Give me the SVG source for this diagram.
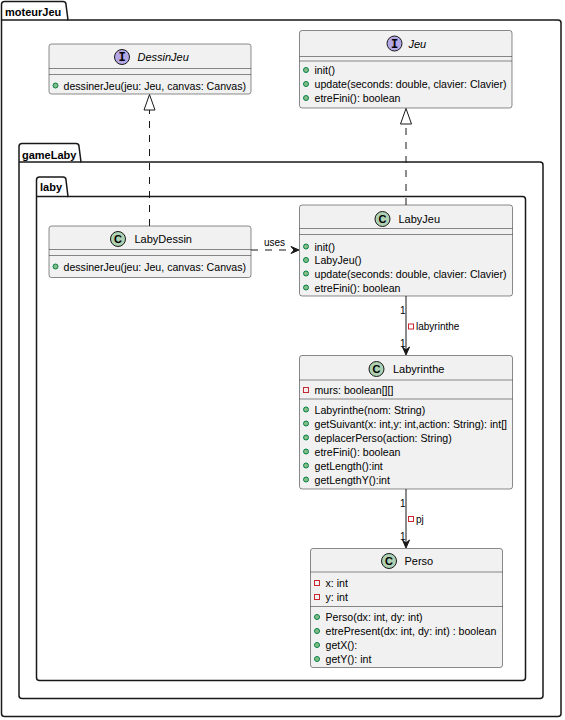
<svg xmlns="http://www.w3.org/2000/svg" width="565" height="720" viewBox="0 0 565 720">
  <style>
    .pkg { fill: none; stroke: #181818; stroke-width: 1.5; }
    .pkgname { font-family: "Liberation Sans", Arial, sans-serif; font-size: 11px; font-weight: bold; fill: #000; }
    .box { fill: #F1F1F1; stroke: #181818; stroke-width: 0.5; }
    .sep { stroke: #181818; stroke-width: 0.5; }
    .title { font-family: "Liberation Sans", Arial, sans-serif; font-size: 11px; fill: #000; }
    .ititle { font-family: "Liberation Sans", Arial, sans-serif; font-size: 11px; font-style: italic; fill: #000; }
    .mem { font-family: "Liberation Sans", Arial, sans-serif; font-size: 10.6px; fill: #000; }
    .lbl { font-family: "Liberation Sans", Arial, sans-serif; font-size: 10px; fill: #000; }
    .ci { fill: #B4A7E5; stroke: #181818; stroke-width: 1; }
    .cc { fill: #ADD1B2; stroke: #181818; stroke-width: 1; }
    .letter { font-family: "Liberation Sans", Arial, sans-serif; font-size: 11px; font-weight: bold; fill: #000; text-anchor: middle; }
    .iletter { font-family: "Liberation Mono", "Courier New", monospace; font-size: 12px; font-weight: bold; fill: #000; text-anchor: middle; }
    .pub { fill: #84BE84; stroke: #038048; stroke-width: 1; }
    .priv { fill: none; stroke: #C82930; stroke-width: 1; }
    .dash { fill: none; stroke: #181818; stroke-width: 1; stroke-dasharray: 7,7; }
    .solid { fill: none; stroke: #181818; stroke-width: 1; }
    .hollow { fill: #FFFFFF; stroke: #181818; stroke-width: 1; }
    .head { fill: #181818; stroke: #181818; stroke-width: 1; }
  </style>

  <!-- packages -->
  <g id="pkg-moteurJeu">
    <path class="pkg" d="M1.5,4.5 Q1.5,1.5 4.5,1.5 L63,1.5 Q66,1.5 66,4.5 L68,20 L558,20 Q561,20 561,23 L561,713.5 Q561,716.5 558,716.5 L4.5,716.5 Q1.5,716.5 1.5,713.5 Z"/>
    <line class="pkg" x1="1.5" y1="20" x2="68" y2="20"/>
    <text class="pkgname" x="5" y="16">moteurJeu</text>
  </g>
  <g id="pkg-gameLaby">
    <path class="pkg" d="M19,146.5 Q19,143.5 22,143.5 L76,143.5 Q79,143.5 79,146.5 L81,162 L540,162 Q543,162 543,165 L543,695.5 Q543,698.5 540,698.5 L22,698.5 Q19,698.5 19,695.5 Z"/>
    <line class="pkg" x1="19" y1="162" x2="81" y2="162"/>
    <text class="pkgname" x="22" y="158.5">gameLaby</text>
  </g>
  <g id="pkg-laby">
    <path class="pkg" d="M36.5,180 Q36.5,177 39.5,177 L63,177 Q66,177 66,180 L68,196.5 L522.5,196.5 Q525.5,196.5 525.5,199.5 L525.5,677.5 Q525.5,680.5 522.5,680.5 L39.5,680.5 Q36.5,680.5 36.5,677.5 Z"/>
    <line class="pkg" x1="36.5" y1="196.5" x2="68" y2="196.5"/>
    <text class="pkgname" x="40" y="191">laby</text>
  </g>

  <!-- DessinJeu interface -->
  <g id="DessinJeu">
    <rect class="box" x="49" y="44" width="202" height="50" rx="2.5"/>
    <circle class="ci" cx="122" cy="57" r="7.5"/>
    <text class="iletter" x="122" y="61">I</text>
    <text class="ititle" x="137.5" y="61">DessinJeu</text>
    <line class="sep" x1="49" y1="68.5" x2="251" y2="68.5"/>
    <line class="sep" x1="49" y1="74.5" x2="251" y2="74.5"/>
    <circle class="pub" cx="55.5" cy="85.5" r="2.5"/>
    <text class="mem" x="63.5" y="89.5">dessinerJeu(jeu: Jeu, canvas: Canvas)</text>
  </g>

  <!-- Jeu interface -->
  <g id="Jeu">
    <rect class="box" x="299.5" y="30.5" width="212.5" height="77.5" rx="2.5"/>
    <circle class="ci" cx="394.5" cy="43.5" r="7.5"/>
    <text class="iletter" x="394.5" y="47.5">I</text>
    <text class="ititle" x="408.5" y="47.5">Jeu</text>
    <line class="sep" x1="299.5" y1="56.5" x2="512" y2="56.5"/>
    <line class="sep" x1="299.5" y1="61" x2="512" y2="61"/>
    <circle class="pub" cx="306" cy="70" r="2.5"/>
    <text class="mem" x="314.5" y="74">init()</text>
    <circle class="pub" cx="306" cy="84" r="2.5"/>
    <text class="mem" x="314.5" y="88">update(seconds: double, clavier: Clavier)</text>
    <circle class="pub" cx="306" cy="98" r="2.5"/>
    <text class="mem" x="314.5" y="102">etreFini(): boolean</text>
  </g>

  <!-- LabyDessin class -->
  <g id="LabyDessin">
    <rect class="box" x="49" y="226" width="202" height="51.5" rx="2.5"/>
    <circle class="cc" cx="118" cy="239" r="7.5"/>
    <text class="letter" x="118" y="243">C</text>
    <text class="title" x="134.5" y="243">LabyDessin</text>
    <line class="sep" x1="49" y1="249.5" x2="251" y2="249.5"/>
    <line class="sep" x1="49" y1="255.5" x2="251" y2="255.5"/>
    <circle class="pub" cx="55.5" cy="266.5" r="2.5"/>
    <text class="mem" x="63.5" y="270.5">dessinerJeu(jeu: Jeu, canvas: Canvas)</text>
  </g>

  <!-- LabyJeu class -->
  <g id="LabyJeu">
    <rect class="box" x="299.5" y="205" width="213" height="91" rx="2.5"/>
    <circle class="cc" cx="382.5" cy="219" r="7.5"/>
    <text class="letter" x="382.5" y="223">C</text>
    <text class="title" x="398.5" y="223">LabyJeu</text>
    <line class="sep" x1="299.5" y1="228.5" x2="512.5" y2="228.5"/>
    <line class="sep" x1="299.5" y1="234.5" x2="512.5" y2="234.5"/>
    <circle class="pub" cx="306" cy="246.5" r="2.5"/>
    <text class="mem" x="314.5" y="250.5">init()</text>
    <circle class="pub" cx="306" cy="260" r="2.5"/>
    <text class="mem" x="314.5" y="264">LabyJeu()</text>
    <circle class="pub" cx="306" cy="273.5" r="2.5"/>
    <text class="mem" x="314.5" y="277.5">update(seconds: double, clavier: Clavier)</text>
    <circle class="pub" cx="306" cy="287.5" r="2.5"/>
    <text class="mem" x="314.5" y="291.5">etreFini(): boolean</text>
  </g>

  <!-- Labyrinthe class -->
  <g id="Labyrinthe">
    <rect class="box" x="299.5" y="355.5" width="213" height="133.5" rx="2.5"/>
    <circle class="cc" cx="376.5" cy="369" r="7.5"/>
    <text class="letter" x="376.5" y="373">C</text>
    <text class="title" x="393" y="373">Labyrinthe</text>
    <line class="sep" x1="299.5" y1="380" x2="512.5" y2="380"/>
    <rect class="priv" x="303.5" y="387.5" width="5" height="5"/>
    <text class="mem" x="314.5" y="393.5">murs: boolean[][]</text>
    <line class="sep" x1="299.5" y1="399" x2="512.5" y2="399"/>
    <circle class="pub" cx="306" cy="409.5" r="2.5"/>
    <text class="mem" x="314.5" y="413.5">Labyrinthe(nom: String)</text>
    <circle class="pub" cx="306" cy="423.5" r="2.5"/>
    <text class="mem" x="314.5" y="427.5">getSuivant(x: int,y: int,action: String): int[]</text>
    <circle class="pub" cx="306" cy="437.5" r="2.5"/>
    <text class="mem" x="314.5" y="441.5">deplacerPerso(action: String)</text>
    <circle class="pub" cx="306" cy="451.5" r="2.5"/>
    <text class="mem" x="314.5" y="455.5">etreFini(): boolean</text>
    <circle class="pub" cx="306" cy="465.5" r="2.5"/>
    <text class="mem" x="314.5" y="469.5">getLength():int</text>
    <circle class="pub" cx="306" cy="479.5" r="2.5"/>
    <text class="mem" x="314.5" y="483.5">getLengthY():int</text>
  </g>

  <!-- Perso class -->
  <g id="Perso">
    <rect class="box" x="310.5" y="548.5" width="192" height="119" rx="2.5"/>
    <circle class="cc" cx="389" cy="561" r="7.5"/>
    <text class="letter" x="389" y="565">C</text>
    <text class="title" x="404.5" y="565">Perso</text>
    <line class="sep" x1="310.5" y1="572" x2="502.5" y2="572"/>
    <rect class="priv" x="314.5" y="580.5" width="5" height="5"/>
    <text class="mem" x="325.5" y="587">x: int</text>
    <rect class="priv" x="314.5" y="594.5" width="5" height="5"/>
    <text class="mem" x="325.5" y="601">y: int</text>
    <line class="sep" x1="310.5" y1="606.5" x2="502.5" y2="606.5"/>
    <circle class="pub" cx="317" cy="617" r="2.5"/>
    <text class="mem" x="325.5" y="621">Perso(dx: int, dy: int)</text>
    <circle class="pub" cx="317" cy="631" r="2.5"/>
    <text class="mem" x="325.5" y="635">etrePresent(dx: int, dy: int) : boolean</text>
    <circle class="pub" cx="317" cy="645" r="2.5"/>
    <text class="mem" x="325.5" y="649">getX():</text>
    <circle class="pub" cx="317" cy="659" r="2.5"/>
    <text class="mem" x="325.5" y="663">getY(): int</text>
  </g>

  <!-- connectors -->
  <g id="connectors">
    <!-- LabyDessin realizes DessinJeu -->
    <line class="dash" x1="149.5" y1="226" x2="149.5" y2="110"/>
    <polygon class="hollow" points="149.5,94.5 144,110 155,110"/>
    <!-- LabyJeu realizes Jeu -->
    <line class="dash" x1="406" y1="205" x2="406" y2="124"/>
    <polygon class="hollow" points="406,108.5 400.5,124 411.5,124"/>
    <!-- LabyDessin uses LabyJeu -->
    <line class="dash" x1="251" y1="250" x2="297" y2="250"/>
    <polygon class="head" points="299,250 291,246.5 294,250 291,253.5"/>
    <text class="lbl" x="264" y="245.5">uses</text>
    <!-- LabyJeu -> Labyrinthe -->
    <line class="solid" x1="406" y1="296" x2="406" y2="353"/>
    <polygon class="head" points="406,355 402.5,347 406,350 409.5,347"/>
    <text class="lbl" x="400" y="314">1</text>
    <rect class="priv" x="408.5" y="324" width="5" height="5"/>
    <text class="lbl" x="416" y="330">labyrinthe</text>
    <text class="lbl" x="400" y="347">1</text>
    <!-- Labyrinthe -> Perso -->
    <line class="solid" x1="406" y1="489" x2="406" y2="546"/>
    <polygon class="head" points="406,548 402.5,540 406,543 409.5,540"/>
    <text class="lbl" x="400" y="506.5">1</text>
    <rect class="priv" x="408.5" y="516.5" width="5" height="5"/>
    <text class="lbl" x="416" y="523">pj</text>
    <text class="lbl" x="400" y="540">1</text>
  </g>
</svg>
